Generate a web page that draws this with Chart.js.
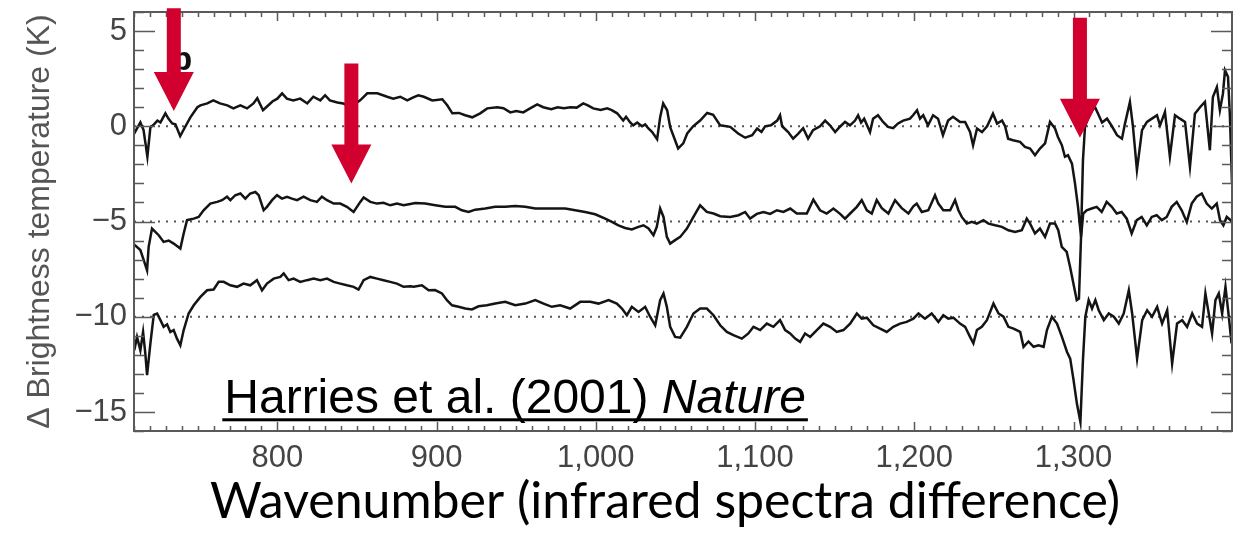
<!DOCTYPE html>
<html>
<head>
<meta charset="utf-8">
<title>Harries et al. (2001) brightness temperature difference</title>
<script src="https://cdn.jsdelivr.net/npm/chart.js@4/dist/chart.umd.min.js"></script>
<style>
  html, body { margin: 0; padding: 0; background: #fff; }
  #wrap { width: 1242px; height: 533px; }
</style>
</head>
<body>
<div id="wrap"><canvas id="spectra" width="1242" height="533"></canvas></div>
<script>
// x range (wavenumber, cm-1) and y range (K)
const X_MIN = 710;
const X_MAX = 1399.5;
const Y_MIN = -16;
const Y_MAX = 6;
const yTickStep = 5;
const xTickStep = 100;
const refLevels = [0, -5, -10];

// top curve (offset 0)
const waveTop = [710, 714, 716, 718.4, 720.3, 722, 724.7, 726.6, 729.7, 731.6, 734, 736, 739, 742, 745.4, 749.8, 751.7, 756, 759.8, 764,
  768.6, 772.4, 776.8, 781, 785, 787.4, 791, 793.7, 796.9, 800, 803, 806, 810, 814.4, 818.8, 822.6, 827, 830, 833, 837.7,
  841.4, 845.8, 852, 856.5, 862.8, 869, 872.8, 877.2, 881.6, 885.4, 888.5, 892, 897.3, 903.6, 906.7, 909.9, 914, 918, 922.4, 927.4,
  931.8, 938.1, 942, 946.3, 950, 954.4, 959, 963.2, 967, 972, 976, 980, 984, 988, 992.1, 995, 998.4, 1003, 1007.2, 1010,
  1013.4, 1017.2, 1019, 1021.6, 1023.5, 1026, 1029, 1031, 1032.9, 1035.4, 1038.5, 1040.4, 1042.3, 1044.8, 1046.7, 1048.6, 1051.7, 1054.9, 1057.4, 1061.1,
  1065.5, 1069.9, 1073.7, 1078.1, 1084.4, 1089.4, 1093.8, 1098.2, 1101.3, 1104, 1106.3, 1110, 1113.9, 1115.7, 1117, 1120.8, 1123.9, 1127, 1130.2, 1133.3,
  1136.4, 1140.8, 1144, 1147, 1150.3, 1153, 1156.5, 1159.6, 1162.8, 1164.7, 1166.6, 1168.5, 1172.2, 1174.1, 1177.2, 1180.4, 1183.5, 1186.7, 1189.8, 1193,
  1197.3, 1199.2, 1201.7, 1203.6, 1205.6, 1208.6, 1211.8, 1214.9, 1218, 1221.2, 1224.3, 1228.7, 1231.9, 1235, 1236.9, 1239.4, 1242.5, 1245.7, 1249.4, 1252,
  1255.1, 1257, 1258.9, 1262, 1266.4, 1269.5, 1272.7, 1275.8, 1278.9, 1282.1, 1285.2, 1288.4, 1290.2, 1292.7, 1294.6, 1296.5, 1299, 1300.9, 1302.8, 1304.7,
  1305.9, 1307.2, 1309.1, 1311.6, 1313.5, 1315.4, 1317.9, 1321, 1324.1, 1327.3, 1330.4, 1332.3, 1335.4, 1337.3, 1339.8, 1343, 1346.1, 1349.2, 1352.4, 1354.3,
  1357.4, 1360.5, 1363.7, 1366.8, 1370, 1373.1, 1376.2, 1379.4, 1382.5, 1385.6, 1387.5, 1390, 1391.9, 1393.8, 1395.1, 1397, 1398.2, 1399.5];
const dTop = [-0.4, 0.2, -0.2, -1.6, -0.05, 0.05, 0.3, 0.2, 0.68, 0.4, 0.15, 0.1, -0.52, -0.05, 0.47, 1.0, 1.1, 1.2, 1.36, 1.2,
  1.1, 0.94, 1.1, 0.94, 1.2, 1.47, 0.84, 1.05, 1.3, 1.45, 1.73, 1.45, 1.36, 1.45, 1.2, 1.55, 1.36, 1.63, 1.36, 1.25,
  1.2, 1.0, 1.36, 1.73, 1.73, 1.55, 1.45, 1.55, 1.36, 1.52, 1.63, 1.55, 1.36, 1.42, 1.1, 0.68, 0.7, 0.58, 0.47, 0.68,
  0.94, 1.0, 0.95, 0.73, 0.8, 0.73, 0.95, 1.15, 1.0, 0.9, 1.0, 0.95, 1.0, 0.98, 1.2, 1.1, 0.94, 0.85, 0.94, 0.85,
  0.68, 0.3, 0.5, 0.2, 0.05, 0.2, 0.0, 0.1, -0.1, -0.3, -0.68, 0.47, 1.2, 0.84, -0.05, -0.47, -1.17, -0.9, -0.38, 0.0,
  0.3, 0.7, 0.6, 0.05, -0.03, -0.38, -0.6, -0.47, -0.12, -0.3, 0.0, 0.05, 0.3, 0.58, 0.0, -0.3, -0.65, -0.4, -0.1, -0.65,
  -0.2, 0.0, 0.3, 0.05, -0.3, -0.05, 0.23, 0.05, 0.3, 0.58, 0.2, 0.4, -0.3, 0.4, 0.58, 0.23, -0.03, -0.1, 0.15, 0.3,
  0.4, 0.58, 0.84, 0.4, 0.58, 0.05, 0.58, 0.4, -0.47, 0.3, 0.5, 0.23, 0.23, -0.3, -1.0, -0.12, -0.3, 0.0, 0.66, 0.14,
  0.3, 0.0, -0.65, -0.73, -0.82, -1.08, -1.17, -1.52, -1.17, -0.9, 0.23, -0.12, -0.56, -1.0, -1.6, -1.52, -1.96, -3.0, -4.23, -5.8,
  -1.8, 0.0, 0.4, 0.84, 1.0, 0.66, 0.2, 0.4, 0.0, -0.47, -0.65, 0.14, 1.28, 0.0, -2.3, -0.2, 0.23, 0.4, 0.58, 0.05,
  0.75, -1.6, 0.58, 0.4, 0.23, -2.13, 0.66, 1.0, 1.28, -1.26, 1.54, 2.06, 0.84, 1.7, 2.94, 2.6, 0.5, -3.0];

// middle curve (offset -5)
const waveMid = [710, 714, 716.1, 718.2, 719.2, 721.3, 723.4, 725.5, 728.6, 731.8, 734.9, 739.1, 741.2, 743.3, 747.5, 750.6, 753.7, 757.9, 762.2, 765.3,
  768.4, 770.5, 773.6, 776.8, 779.9, 783, 786.2, 788.3, 791.4, 793.5, 796.7, 799.8, 802.9, 806.1, 809.2, 812.4, 816.5, 820.7, 824.9, 828,
  831.2, 835.4, 839.5, 843.7, 847.9, 852.1, 854.2, 858.4, 862.6, 866.7, 870.9, 875.1, 879.3, 883.5, 886.6, 892.9, 899.2, 905.5, 911.7, 915.9,
  920.1, 924.3, 930.6, 936.8, 943.1, 949.4, 955.7, 962, 968.2, 974.5, 980.8, 987.1, 993.3, 999.6, 1005.9, 1010.1, 1014.2, 1018.4, 1022.6, 1026.8,
  1029.9, 1033.1, 1036.2, 1038.3, 1040.4, 1042.5, 1044.6, 1046.7, 1049.8, 1053, 1057.2, 1061.3, 1065.5, 1069.7, 1073.9, 1078.1, 1084.4, 1089.6, 1093.8, 1096.9,
  1101.1, 1105.3, 1109.5, 1113.7, 1117.8, 1122.1, 1126.2, 1132.5, 1136.6, 1140.8, 1145, 1149.2, 1153.4, 1156.5, 1159.7, 1163.9, 1167, 1170.2, 1173.3, 1176.4,
  1179.6, 1183.7, 1187.9, 1192.1, 1196.3, 1199.4, 1201.5, 1204.7, 1208.8, 1213, 1215.1, 1218.2, 1222.5, 1225.6, 1227.7, 1229.8, 1233, 1236.1, 1239.3, 1243.4,
  1246.6, 1250.8, 1255, 1259.1, 1263.3, 1267.5, 1270.6, 1272.7, 1275.8, 1278.9, 1282.1, 1285.2, 1288.4, 1290.4, 1292.6, 1295.7, 1297.8, 1299.9, 1302, 1303.4,
  1304.7, 1306.1, 1308.2, 1311.4, 1314.5, 1317.7, 1320.8, 1324, 1327.1, 1330.2, 1333.4, 1336.5, 1339.7, 1342.8, 1346, 1349.1, 1352.2, 1355.4, 1358.5, 1361.6,
  1364.8, 1367.9, 1371.1, 1374.2, 1377.3, 1380.5, 1383.6, 1386.8, 1389.9, 1392, 1394.1, 1396.2, 1399.5];
const dMid = [-6.2, -6.5, -7.03, -7.56, -6.33, -5.37, -5.55, -5.72, -6.07, -6.0, -6.16, -6.42, -5.63, -4.93, -4.85, -4.76, -4.41, -4.06, -3.97, -3.88,
  -3.7, -3.88, -3.62, -3.53, -3.8, -3.53, -3.45, -3.62, -4.41, -4.23, -3.88, -3.62, -3.8, -3.7, -3.8, -3.88, -3.7, -3.88, -3.97, -3.7,
  -3.88, -4.06, -4.06, -4.23, -4.5, -3.97, -3.74, -3.97, -4.06, -4.02, -4.15, -4.06, -4.15, -4.08, -4.03, -4.06, -4.15, -4.23, -4.23, -4.41,
  -4.5, -4.38, -4.32, -4.23, -4.23, -4.18, -4.23, -4.32, -4.32, -4.32, -4.32, -4.41, -4.5, -4.62, -4.85, -5.02, -5.2, -5.34, -5.42, -5.28,
  -5.2, -5.37, -5.72, -5.28, -4.32, -4.76, -5.81, -6.16, -5.98, -5.81, -5.37, -4.76, -4.15, -4.5, -4.58, -4.72, -4.76, -4.67, -4.5, -4.85,
  -4.6, -4.5, -4.6, -4.41, -4.5, -4.32, -4.58, -4.58, -3.85, -4.41, -4.58, -4.32, -4.6, -4.85, -4.58, -4.23, -3.88, -4.41, -4.58, -3.88,
  -4.3, -4.58, -3.88, -4.3, -4.58, -4.2, -4.06, -4.5, -4.41, -3.62, -4.06, -4.41, -4.41, -3.88, -4.41, -4.76, -5.11, -5.02, -5.11, -4.93,
  -5.11, -5.2, -5.28, -5.46, -5.55, -5.46, -4.85, -5.11, -5.63, -5.37, -5.81, -5.11, -5.11, -5.46, -6.33, -6.6, -7.38, -8.26, -9.13, -9.05,
  -5.81, -4.58, -4.41, -4.32, -4.23, -4.5, -3.97, -4.23, -4.58, -4.5, -4.85, -5.63, -4.93, -4.76, -5.2, -4.76, -4.67, -4.93, -4.76, -4.23,
  -3.97, -4.41, -5.02, -4.06, -3.7, -3.53, -4.06, -4.32, -4.06, -4.93, -5.2, -4.76, -5.0];

// bottom curve (offset -10)
const waveBot = [710.2, 711.9, 714, 715.7, 717.1, 718.2, 720.3, 722.4, 724.5, 726.6, 728.6, 730.8, 732.8, 734.9, 737, 739.1, 741.2, 744.3, 747.5, 751.7,
  755.9, 760, 763.2, 766.3, 770.5, 774.7, 778.8, 783, 787.2, 790.4, 793.5, 797.7, 801.9, 804, 807.1, 810.2, 814.4, 818.6, 822.8, 827,
  831.2, 835.4, 839.5, 843.7, 847.9, 851, 854.2, 858.4, 862.6, 866.7, 870.9, 875.1, 879.3, 883.5, 885.6, 890.8, 895, 899, 903.4, 906.5,
  909.7, 913.8, 918, 922.2, 926.4, 931.6, 936.8, 943.1, 949.4, 955.7, 962, 967.2, 972.4, 977.6, 983.9, 990.2, 996.5, 1001.7, 1008, 1013.2,
  1016.4, 1019.5, 1022.6, 1026.8, 1031, 1034.1, 1037.3, 1040.4, 1042.5, 1044.6, 1046.7, 1049.8, 1053, 1057.2, 1061.3, 1065.5, 1069.7, 1073.9, 1078.1, 1082.3,
  1086.4, 1091.7, 1095.8, 1099, 1103.2, 1107.4, 1111.5, 1115.7, 1118.9, 1122, 1125.2, 1128.3, 1131.4, 1134.6, 1138.8, 1142.9, 1147.1, 1151.3, 1155.5, 1159.7,
  1163.9, 1167, 1170.2, 1174.3, 1178.5, 1182.7, 1186.8, 1191.1, 1195.2, 1199.4, 1202.6, 1206.7, 1210.9, 1215.1, 1218.2, 1221.3, 1224.5, 1228.7, 1231.9, 1235,
  1237.1, 1239.3, 1242.4, 1245.6, 1249.7, 1252.9, 1256, 1259.1, 1262.3, 1266.5, 1268.6, 1271.7, 1274.9, 1278, 1281.2, 1283.3, 1286.4, 1289.6, 1292.7, 1295.9,
  1297.9, 1300, 1302.1, 1304.3, 1305.9, 1307.4, 1309.5, 1311.6, 1313.7, 1315.8, 1319, 1322.1, 1325.3, 1328.4, 1331.5, 1334.7, 1336.8, 1339.9, 1343.1, 1346.2,
  1349.3, 1352.5, 1355.6, 1358.8, 1361.9, 1365, 1368.2, 1371.3, 1374.5, 1377.6, 1380.7, 1382.8, 1384.9, 1387, 1389.1, 1391.2, 1393.3, 1395.4, 1397.5, 1399.2];
const dBot = [-11.76, -11.06, -11.76, -10.8, -11.93, -13.07, -11.4, -9.9, -9.83, -10.18, -10.53, -10.4, -10.8, -10.7, -11.15, -11.5, -10.7, -9.83, -9.4, -8.96,
  -8.61, -8.57, -8.17, -8.17, -8.35, -8.43, -8.26, -8.35, -8.08, -8.61, -8.26, -8.0, -7.91, -7.73, -8.08, -8.0, -8.17, -8.08, -8.0, -8.08,
  -8.0, -8.17, -8.26, -8.35, -8.43, -8.57, -8.08, -7.91, -8.0, -8.08, -8.17, -8.26, -8.43, -8.4, -8.43, -8.35, -8.61, -8.6, -8.78, -9.13,
  -9.4, -9.48, -9.57, -9.62, -9.45, -9.4, -9.31, -9.22, -9.4, -9.31, -9.13, -9.31, -9.48, -9.4, -9.57, -9.22, -9.22, -9.31, -9.13, -9.31,
  -9.57, -9.92, -9.48, -9.75, -9.48, -10.0, -10.45, -9.13, -8.78, -9.48, -10.53, -11.06, -11.1, -10.53, -9.83, -9.57, -9.57, -9.92, -10.45, -10.8,
  -10.97, -11.15, -10.88, -10.53, -10.7, -10.36, -10.53, -10.18, -10.7, -10.88, -11.15, -11.32, -10.88, -11.06, -10.7, -10.36, -10.53, -10.8, -10.7, -10.36,
  -9.83, -10.1, -10.05, -10.45, -10.62, -10.8, -10.53, -10.36, -10.27, -10.1, -9.83, -10.1, -9.83, -10.27, -9.92, -10.1, -10.05, -10.36, -10.53, -11.06,
  -11.4, -10.7, -10.53, -10.18, -9.31, -9.83, -10.0, -10.53, -10.62, -10.8, -11.58, -11.3, -11.58, -11.5, -11.58, -10.7, -10.0, -10.36, -11.06, -11.85,
  -12.2, -13.33, -14.56, -15.52, -12.28, -10.0, -9.13, -9.57, -9.13, -9.66, -10.18, -9.83, -10.0, -10.36, -9.83, -8.61, -9.83, -12.2, -10.18, -9.66,
  -10.0, -9.48, -10.36, -9.66, -12.46, -10.36, -10.18, -10.53, -9.83, -10.36, -10.53, -8.78, -9.83, -10.88, -9.13, -8.78, -9.83, -8.43, -10.0, -11.4];

// red arrows: wavenumber, top and tip in K
const arrowX = [735, 846.5, 1304];
const arrowTop = [6.2, 3.3, 5.7];
const arrowTip = [0.8, -3.0, -0.6];

const FRAME = "#5a5a5a";
const TICK_FONT = "'Liberation Sans', Arial, sans-serif";

function pts(xs, ys) {
  return xs.map((x, i) => ({ x, y: ys[i] }));
}

function curve(label, xs, ys) {
  return {
    label,
    data: pts(xs, ys),
    borderColor: "#141414",
    borderWidth: 2.5,
    pointRadius: 0,
    tension: 0,
    order: 0,
  };
}

function refLine(level) {
  return {
    label: "ref " + level,
    data: [{ x: X_MIN, y: level }, { x: X_MAX, y: level }],
    borderColor: "#555",
    borderWidth: 2,
    borderDash: [2, 6],
    pointRadius: 0,
    order: 5,
  };
}

// frame + inward ticks on all four sides, minor every 10 cm-1 / 1 K
const frameTicks = {
  id: "frameTicks",
  afterDatasetsDraw(chart) {
    const { ctx, chartArea: a, scales: { x, y } } = chart;
    ctx.save();
    ctx.strokeStyle = FRAME;
    ctx.lineWidth = 1.5;
    ctx.beginPath();
    for (let w = Math.ceil(X_MIN / 10) * 10; w <= X_MAX; w += 10) {
      const px = Math.round(x.getPixelForValue(w)) + 0.5;
      const len = w % 100 === 0 ? 9 : 5;
      ctx.moveTo(px, a.bottom); ctx.lineTo(px, a.bottom - len);
      ctx.moveTo(px, a.top); ctx.lineTo(px, a.top + len);
    }
    for (let v = Y_MIN; v <= Y_MAX; v += 1) {
      const py = Math.round(y.getPixelForValue(v)) + 0.5;
      const len = v % 5 === 0 ? 21 : 10;
      ctx.moveTo(a.left, py); ctx.lineTo(a.left + len, py);
      ctx.moveTo(a.right, py); ctx.lineTo(a.right - len, py);
    }
    ctx.stroke();
    ctx.lineWidth = 2;
    ctx.strokeRect(a.left, a.top, a.right - a.left, a.bottom - a.top);
    ctx.restore();
  },
};

// panel letter, citation, arrows and the big x caption
const annotations = {
  id: "annotations",
  afterDraw(chart) {
    const { ctx, scales: { x, y } } = chart;
    ctx.save();

    ctx.fillStyle = "#111";
    ctx.font = "bold 34px " + TICK_FONT;
    ctx.textBaseline = "alphabetic";
    ctx.fillText("b", x.getPixelForValue(733.5), y.getPixelForValue(2.94));

    ctx.fillStyle = "#d1002e";
    arrowX.forEach((w, i) => {
      const cx = x.getPixelForValue(w);
      const top = y.getPixelForValue(arrowTop[i]);
      const tip = y.getPixelForValue(arrowTip[i]);
      const neck = tip - 39;
      ctx.beginPath();
      ctx.moveTo(cx - 7, top);
      ctx.lineTo(cx + 7, top);
      ctx.lineTo(cx + 7, neck);
      ctx.lineTo(cx + 20, neck);
      ctx.lineTo(cx, tip);
      ctx.lineTo(cx - 20, neck);
      ctx.lineTo(cx - 7, neck);
      ctx.closePath();
      ctx.fill();
    });

    // citation, anchored in data space
    const cx0 = x.getPixelForValue(766.7);
    const cy0 = y.getPixelForValue(-15.07);
    ctx.fillStyle = "#000";
    ctx.font = "48px " + TICK_FONT;
    const part1 = "Harries et al. (2001) ";
    ctx.fillText(part1, cx0, cy0);
    const w1 = ctx.measureText(part1).width;
    ctx.font = "italic 48px " + TICK_FONT;
    ctx.fillText("Nature", cx0 + w1, cy0);
    const w2 = ctx.measureText("Nature").width;
    ctx.fillRect(cx0 - 2, cy0 + 5, w1 + w2 + 4, 3);

    ctx.font = "50px Lato, 'Open Sans', sans-serif";
    ctx.textAlign = "center";
    ctx.fillText("Wavenumber (infrared spectra difference)", 665, 518);
    ctx.restore();
  },
};

new Chart(document.getElementById("spectra"), {
  type: "line",
  data: {
    datasets: [
      curve("offset 0", waveTop, dTop),
      curve("offset -5", waveMid, dMid),
      curve("offset -10", waveBot, dBot),
      ...refLevels.map(refLine),
    ],
  },
  options: {
    responsive: false,
    animation: false,
    layout: { padding: { top: 12, right: 10, left: 0, bottom: 0 } },
    plugins: { legend: { display: false }, tooltip: { enabled: false } },
    scales: {
      x: {
        type: "linear",
        min: X_MIN,
        max: X_MAX,
        grid: { display: false, drawTicks: false },
        border: { display: false },
        ticks: {
          stepSize: xTickStep,
          includeBounds: false,
          padding: 9,
          color: "#444",
          font: { family: TICK_FONT, size: 31 },
          maxRotation: 0,
          callback: (v) => v.toLocaleString("en-US"),
        },
        afterFit: (s) => { s.height = 102; s.paddingLeft = 0; s.paddingRight = 0; },
      },
      y: {
        min: Y_MIN,
        max: Y_MAX,
        grid: { display: false, drawTicks: false },
        border: { display: false },
        ticks: {
          stepSize: yTickStep,
          includeBounds: false,
          padding: 7,
          color: "#444",
          font: { family: TICK_FONT, size: 31 },
          callback: (v) => String(v).replace("-", "\u2212"),
        },
        title: {
          display: true,
          text: "\u0394 Brightness temperature (K)",
          color: "#555",
          font: { family: TICK_FONT, size: 32 },
          padding: { top: 21, bottom: 0 },
        },
        afterFit: (s) => { s.width = 134; s.paddingTop = 0; s.paddingBottom = 0; },
      },
    },
  },
  plugins: [frameTicks, annotations],
});
</script>
</body>
</html>
